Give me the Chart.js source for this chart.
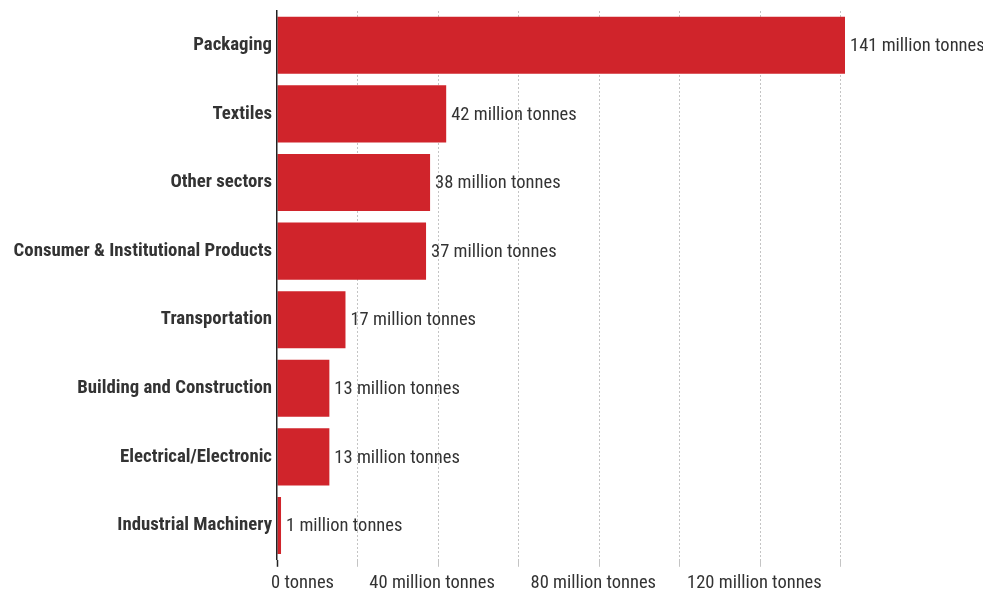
<!DOCTYPE html>
<html>
<head>
<meta charset="utf-8">
<script src="https://cdn.jsdelivr.net/npm/chart.js@4/dist/chart.umd.min.js"></script>
<style>
  html, body { margin: 0; padding: 0; background: #fff; }
  #wrap { width: 983px; height: 590px; position: relative; }
</style>
</head>
<body>
<div id="wrap"><canvas id="chart"></canvas></div>
<script>
// Plastic waste generated by industrial sector
const categories = [
  'Packaging',
  'Textiles',
  'Other sectors',
  'Consumer & Institutional Products',
  'Transportation',
  'Building and Construction',
  'Electrical/Electronic',
  'Industrial Machinery'
];
const wasteMt = [141, 42, 38, 37, 17, 13, 13, 1];
const valueUnit = ' million tonnes';
const xTickValues = [0, 40, 80, 120];
const xTickLabels = ['0 tonnes', '40 million tonnes', '80 million tonnes', '120 million tonnes'];

const FAMILY = "'Roboto Condensed', 'DejaVu Sans Condensed', sans-serif";
const TEXT = '#333333';
const BAR = '#d0242b';
const LABEL_SIZE = 18.5;
const CAT_SIZE = 18.8;

Chart.defaults.font.family = FAMILY;
Chart.defaults.color = TEXT;

// Writes "<value> million tonnes" just past the end of each bar
const valueLabels = {
  id: 'valueLabels',
  afterDatasetsDraw(chart) {
    const { ctx } = chart;
    const meta = chart.getDatasetMeta(0);
    ctx.save();
    ctx.font = LABEL_SIZE + 'px ' + FAMILY;
    ctx.fillStyle = TEXT;
    ctx.textAlign = 'left';
    ctx.textBaseline = 'middle';
    meta.data.forEach((bar, i) => {
      ctx.fillText(wasteMt[i] + valueUnit, bar.x + 5, bar.y + 1);
    });
    ctx.restore();
  }
};

new Chart(document.getElementById('chart'), {
  type: 'bar',
  data: {
    labels: categories,
    datasets: [{
      data: wasteMt,
      backgroundColor: BAR,
      borderWidth: 0,
      barPercentage: 1,
      categoryPercentage: 0.833
    }]
  },
  plugins: [valueLabels],
  options: {
    indexAxis: 'y',
    responsive: true,
    maintainAspectRatio: false,
    animation: false,
    devicePixelRatio: 1,
    layout: { padding: { top: 11, right: 138, bottom: -9, left: 0 } },
    plugins: {
      legend: { display: false },
      tooltip: { enabled: false }
    },
    scales: {
      x: {
        type: 'linear',
        min: 0,
        max: 141,
        grid: {
          color: (c) => (c.tick && c.tick.value === 0) ? 'rgba(0,0,0,0)' : '#c4c4c4',
          lineWidth: 1,
          drawTicks: true,
          tickLength: 7,
          tickColor: (c) => (c.tick && c.tick.value === 0) ? '#222' : '#c4c4c4',
          tickWidth: (c) => (c.tick && c.tick.value === 0) ? 1.5 : 1
        },
        border: { display: false, dash: [2, 2] },
        ticks: {
          stepSize: 20,
          includeBounds: false,
          autoSkip: false,
          maxRotation: 0,
          minRotation: 0,
          align: 'inner',
          labelOffset: -6,
          padding: 5,
          color: TEXT,
          font: { size: LABEL_SIZE, family: FAMILY },
          callback: (v) => {
            const i = xTickValues.indexOf(v);
            return i >= 0 ? xTickLabels[i] : '';
          }
        }
      },
      y: {
        type: 'category',
        grid: { display: false, drawTicks: false },
        border: { display: true, color: '#222', width: 1.5, z: 1 },
        afterFit: (scale) => {
          scale.width = 277;
          scale.paddingTop = 0;
          scale.paddingBottom = 0;
        },
        ticks: {
          padding: 5,
          color: TEXT,
          font: { size: CAT_SIZE, weight: 'bold', family: FAMILY }
        }
      }
    }
  }
});
</script>
</body>
</html>
